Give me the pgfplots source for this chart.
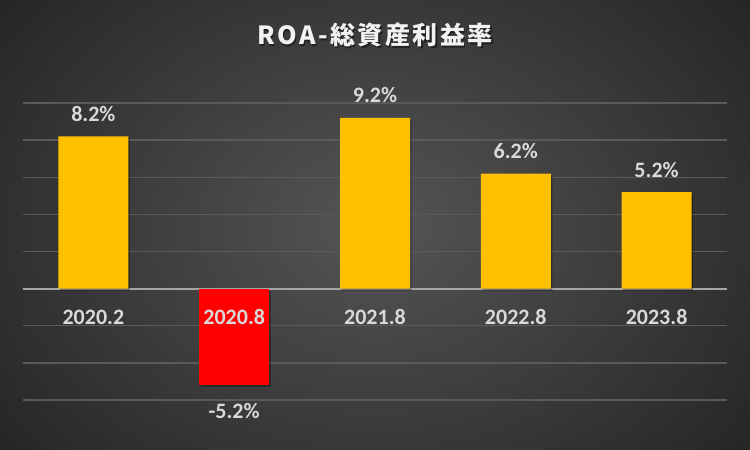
\documentclass[border=0pt]{standalone}
\usepackage{fontspec}
\setmainfont{Carlito}
\newfontfamily\cjk[LetterSpace=10]{Noto Sans CJK JP}
\usepackage{pgfplots}
\pgfplotsset{compat=1.18}
\definecolor{barY}{HTML}{FFC000}
\definecolor{barR}{HTML}{FF0000}
\definecolor{lbl}{HTML}{D9D9D9}
\definecolor{gridc}{HTML}{5A5A5A}
\definecolor{zeroc}{HTML}{A6A6A6}
\definecolor{bgin}{HTML}{555555}
\definecolor{bgout}{HTML}{242424}
\pgfplotsset{base/.style={
  at={(23pt,50pt)}, anchor=south west,
  scale only axis, width=704pt, height=297pt,
  xmin=-0.5, xmax=4.5, ymin=-6, ymax=10,
  axis line style={draw=none}, major tick length=0pt,
  yticklabels={}}}
\begin{document}
\begin{tikzpicture}[x=1pt,y=1pt]
\shade[inner color=bgin, outer color=bgout] (-120,-150) rectangle (870,600);
\node[anchor=base, text=black, opacity=0.45, font=\cjk\bfseries\fontsize{25}{25}\selectfont] at (376.5,403.5) {ROA-総資産利益率};
\node[anchor=base, text=white!95!black, font=\cjk\bfseries\fontsize{25}{25}\selectfont] at (375,405) {ROA-総資産利益率};
\begin{axis}[
  base,
  ytick={-6,-4,...,10},
  ymajorgrids, grid style={draw=gridc, line width=1.3pt},
  extra y ticks={0}, extra y tick labels={},
  extra y tick style={grid style={draw=zeroc, line width=2pt}},
  xtick={0,1,2,3,4}, xticklabels={},
  ybar, bar width=70pt,
  /pgf/number format/assume math mode=true,
  nodes near coords={\pgfmathprintnumber[fixed,precision=1]{\pgfplotspointmeta}\%},
  every node near coord/.append style={anchor=base, inner sep=0pt, text=lbl, font=\bfseries\fontsize{22}{22}\selectfont},
]
\addplot[fill=barY, draw=none, bar shift=0pt,
  preaction={fill=black, opacity=0.3, transform canvas={xshift=1.5pt,yshift=-2pt}},
  every node near coord/.append style={yshift=15pt}] coordinates {(0,8.2) (2,9.2) (3,6.2) (4,5.2)};
\addplot[fill=barR, draw=none, bar shift=0pt,
  preaction={fill=black, opacity=0.3, transform canvas={xshift=1.5pt,yshift=-2pt}},
  every node near coord/.append style={yshift=-33pt}] coordinates {(1,-5.2)};
\end{axis}
\begin{axis}[
  base,
  ytick=\empty,
  xtick={0,1,2,3,4},
  xticklabels={2020.2,2020.8,2021.8,2022.8,2023.8},
  x tick label style={anchor=base, yshift=75pt, text=lbl, font=\bfseries\fontsize{22}{22}\selectfont},
]
\end{axis}
\pgfresetboundingbox
\useasboundingbox (0,0) rectangle (750,450);
\end{tikzpicture}
\end{document}
